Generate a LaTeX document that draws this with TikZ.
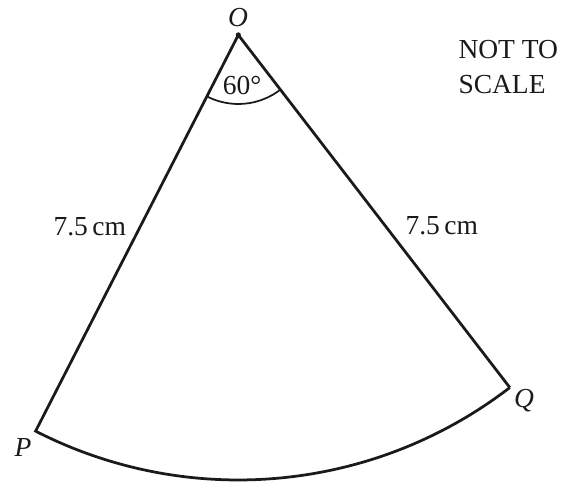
\documentclass[tikz,border=0pt]{standalone}
\usepackage{fontspec}
\setmainfont{Liberation Serif}
\usetikzlibrary{calc,positioning}
\definecolor{SectorInk}{HTML}{1A1A1A}
\tikzset{
  every node/.style={font=\fontsize{11}{14}\selectfont, text=SectorInk},
  radius line/.style={draw=SectorInk, line width=1.1pt, line join=miter},
  angle mark/.style={draw=SectorInk, line width=0.7pt},
  vertex label/.style={font=\fontsize{11}{14}\selectfont\itshape, anchor=base},
}

\begin{document}
\begin{tikzpicture}[x=0.4pt, y=0.4pt]
  \useasboundingbox (0,0) rectangle (565,484);
  % Centre and end points of the sector
  \coordinate (O) at (238.3,449);
  \coordinate (P) at ($(O)+(242.9:445)$);
  \coordinate (Q) at ($(O)+(307.6:445)$);
  % Radii and arc
  \draw[radius line] (Q) -- (O) -- (P) arc[start angle=242.9, end angle=307.6, radius=445];
  \fill[SectorInk] (O) circle (2.6);
  % Angle at O
  \draw[angle mark] ($(O)+(242.9:69)$) arc[start angle=242.9, end angle=307.6, radius=69];
  \node[anchor=base] (angleO) at (242,389) {60°};
  % Vertex labels
  \node[vertex label] (labelO) at (238,457) {O};
  \node[vertex label] (labelP) at (23,27) {P};
  \node[vertex label] (labelQ) at (524,76) {Q};
  % Lengths
  \node[anchor=base west, inner sep=0pt] (lenOP) at (53,248) {7.5\,cm};
  \node[anchor=base west, inner sep=0pt] (lenOQ) at (405,249) {7.5\,cm};
  % Note
  \node[anchor=north west, inner sep=0pt, align=left] (note) at (458,444) {NOT TO\\SCALE};
\end{tikzpicture}
\end{document}
